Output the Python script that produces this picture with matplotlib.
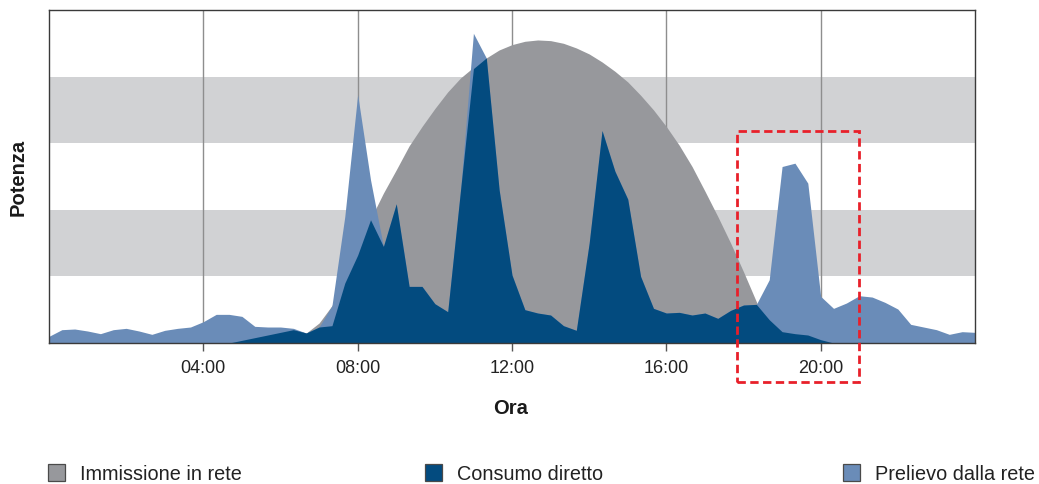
import numpy as np
import matplotlib
matplotlib.use("Agg")
import matplotlib.pyplot as plt
from matplotlib.patches import Rectangle

# time axis: one sample every 20 minutes, 00:00 .. 24:00
hours = np.arange(73) / 3

# Immissione in rete (PV production, grey)
immissione = [
    0, 0, 0, 0, 0, 0, 0, 0, 0, 0, 0, 0,
    0, 0, 0, 0, 0, 0, 0.08, 0.20, 0.15, 0.30, 0.56, 0.99,
    1.42, 1.86, 2.25, 2.60, 2.96, 3.25, 3.52, 3.77, 3.98, 4.14, 4.28, 4.40,
    4.48, 4.53, 4.55, 4.54, 4.50, 4.43, 4.34, 4.22, 4.08, 3.92, 3.72, 3.50,
    3.25, 2.97, 2.65, 2.28, 1.90, 1.50, 1.07, 0.62, 0.18, 0, 0, 0,
    0, 0, 0, 0, 0, 0, 0, 0, 0, 0, 0, 0,
    0,
]

# Prelievo dalla rete (total consumption, light blue)
prelievo = [
    0.10, 0.20, 0.21, 0.18, 0.14, 0.20, 0.22, 0.18, 0.13, 0.19, 0.22, 0.24,
    0.32, 0.43, 0.43, 0.40, 0.25, 0.24, 0.24, 0.22, 0.15, 0.24, 0.56, 1.90,
    3.73, 2.45, 1.45, 2.09, 0.85, 0.85, 0.59, 0.47, 2.30, 4.65, 4.28, 2.30,
    1.02, 0.50, 0.45, 0.42, 0.26, 0.19, 1.50, 3.19, 2.58, 2.16, 1.00, 0.52,
    0.45, 0.46, 0.42, 0.45, 0.37, 0.49, 0.57, 0.58, 0.95, 2.65, 2.70, 2.40,
    0.70, 0.52, 0.60, 0.71, 0.69, 0.61, 0.51, 0.28, 0.24, 0.20, 0.13, 0.17,
    0.16,
]

# Consumo diretto (self consumption, dark blue)
consumo = [
    0, 0, 0, 0, 0, 0, 0, 0, 0, 0, 0, 0,
    0, 0, 0, 0.04, 0.08, 0.12, 0.16, 0.20, 0.15, 0.24, 0.26, 0.90,
    1.32, 1.85, 1.45, 2.09, 0.85, 0.85, 0.59, 0.47, 2.30, 4.12, 4.28, 2.30,
    1.02, 0.50, 0.45, 0.42, 0.26, 0.19, 1.50, 3.19, 2.58, 2.16, 1.00, 0.52,
    0.45, 0.46, 0.42, 0.45, 0.37, 0.49, 0.57, 0.58, 0.35, 0.17, 0.14, 0.12,
    0.05, 0, 0, 0, 0, 0, 0, 0, 0, 0, 0, 0,
    0,
]

tick_hours = [4, 8, 12, 16, 20]
tick_labels = ["04:00", "08:00", "12:00", "16:00", "20:00"]

legend_labels = ["Immissione in rete", "Consumo diretto", "Prelievo dalla rete"]
c_grey = "#97989c"
c_dark = "#034b7f"
c_light = "#6a8cb8"
legend_colors = [c_grey, c_dark, c_light]

W, H = 1039, 484
fig = plt.figure(figsize=(W / 100, H / 100), dpi=100)
ax = fig.add_axes([49 / W, (H - 343) / H, (975 - 49) / W, (343 - 10) / H])

# horizontal background bands
for lo, hi in [(1, 2), (3, 4)]:
    ax.axhspan(lo, hi, color="#d1d2d4", lw=0, zorder=0)
for h in tick_hours:
    ax.axvline(h, color="#8e8e8e", lw=1.0, zorder=0.5)

ax.fill_between(hours, immissione, color=c_grey, lw=0, zorder=1)
ax.fill_between(hours, prelievo, color=c_light, lw=0, zorder=2)
ax.fill_between(hours, consumo, color=c_dark, lw=0, zorder=3)

ax.set_xlim(0, 24)
ax.set_ylim(0, 5)
ax.set_yticks([])
ax.set_xticks(tick_hours)
ax.set_xticklabels(tick_labels, fontfamily="Liberation Sans", fontsize=13, color="#222222")
ax.tick_params(axis="x", direction="out", length=6, width=1, color="#555555", pad=6)
for sp in ax.spines.values():
    sp.set_color("#3a3a3a")
    sp.set_linewidth(1.0)
    sp.set_zorder(5)

# red dashed highlight box around the evening peak
box = Rectangle((17.83, -0.58), 3.17, 3.76, fill=False, edgecolor="#e8202a",
                lw=2.0, linestyle=(0, (3, 1.6)), clip_on=False, zorder=10)
ax.add_patch(box)

fig.text(511 / W, 1 - 409 / H, "Ora", ha="center", va="center",
         fontfamily="Liberation Sans", fontweight="bold", fontsize=14.5, color="#1a1a1a")
fig.text(18 / W, 1 - 177 / H, "Potenza", ha="center", va="center", rotation=90,
         fontfamily="Liberation Sans", fontweight="bold", fontsize=14.5, color="#1a1a1a")

# legend, drawn by hand to keep the uneven spacing
sq_x = [48, 425, 843]
for x0, lab, col in zip(sq_x, legend_labels, legend_colors):
    fig.add_artist(Rectangle((x0 / W, 1 - 481 / H), 17 / W, 17 / H, transform=fig.transFigure,
                             facecolor=col, edgecolor="#4a4a4a", lw=0.9))
    fig.text((x0 + 32) / W, 1 - 480.5 / H, lab, ha="left", va="baseline",
             fontfamily="Liberation Sans", fontsize=14.3, color="#222222")

fig.savefig("out.png", dpi=100)
